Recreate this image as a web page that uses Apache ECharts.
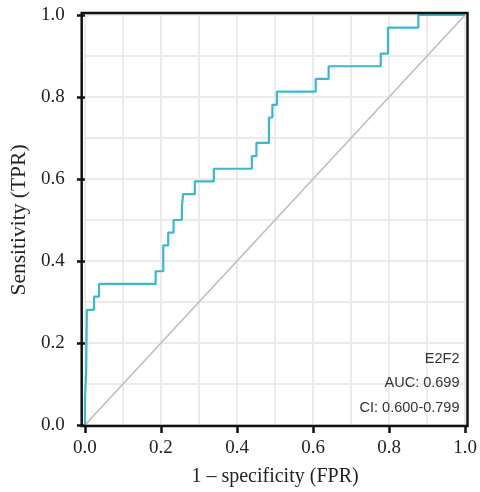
<!DOCTYPE html>
<html>
<head>
<meta charset="utf-8">
<script src="https://cdn.jsdelivr.net/npm/echarts@6/dist/echarts.min.js"></script>
<style>html,body{margin:0;padding:0;background:#fff}#chart{width:480px;height:492px}</style>
</head>
<body>
<div id="chart"></div>
<script>
// ROC curve corner points (1 - specificity, sensitivity)
const fpr = [0, 0, 0.003, 0.003, 0.005, 0.005, 0.024, 0.024, 0.037, 0.037, 0.186, 0.186, 0.206, 0.206, 0.219, 0.219, 0.233, 0.233, 0.255, 0.255, 0.258, 0.258, 0.289, 0.289, 0.339, 0.339, 0.439, 0.439, 0.451, 0.451, 0.484, 0.484, 0.493, 0.493, 0.505, 0.505, 0.607, 0.607, 0.641, 0.641, 0.778, 0.778, 0.797, 0.797, 0.877, 0.877, 1.0];
const tpr = [0, 0.063, 0.063, 0.125, 0.125, 0.281, 0.281, 0.313, 0.313, 0.344, 0.344, 0.375, 0.375, 0.438, 0.438, 0.469, 0.469, 0.500, 0.500, 0.531, 0.531, 0.563, 0.563, 0.594, 0.594, 0.625, 0.625, 0.656, 0.656, 0.688, 0.688, 0.750, 0.750, 0.781, 0.781, 0.813, 0.813, 0.844, 0.844, 0.875, 0.875, 0.906, 0.906, 0.969, 0.969, 1.0, 1.0];
// Reference diagonal
const diagX = [0, 1];
const diagY = [0, 1];
// Annotation texts
const legendLines = ['E2F2', 'AUC: 0.699', 'CI: 0.600-0.799'];
const xTitle = '1 \u2013 specificity (FPR)';
const yTitle = 'Sensitivity (TPR)';

const serif = '"Liberation Serif", "DejaVu Serif", serif';
const chart = echarts.init(document.getElementById('chart'), null, {renderer: 'canvas'});

const tickStyle = {show: true, length: 8, lineStyle: {color: '#111', width: 2.5}};
const splitStyle = {show: true, lineStyle: {color: '#ebebeb', width: 2}};

chart.setOption({
  backgroundColor: '#fff',
  animation: false,
  grid: [
    {left: 84, top: 15, right: 12, bottom: 66},
    {left: 81.7, top: 13, right: 12.5, bottom: 66, show: true, borderColor: '#111', borderWidth: 2.5, backgroundColor: 'transparent', z: 5}
  ],
  xAxis: [
    {
      type: 'value', gridIndex: 0, min: 0, max: 1, interval: 0.2,
      axisLine: {show: false},
      axisTick: tickStyle,
      axisLabel: {margin: 14, fontFamily: serif, fontSize: 19, color: '#222', formatter: v => v.toFixed(1)},
      splitLine: splitStyle,
      minorTick: {show: false, splitNumber: 2},
      minorSplitLine: splitStyle,
      name: xTitle, nameLocation: 'middle', nameGap: 42,
      nameTextStyle: {fontFamily: serif, fontSize: 20, color: '#222'}
    },
    {type: 'value', gridIndex: 1, show: false, min: 0, max: 1}
  ],
  yAxis: [
    {
      type: 'value', gridIndex: 0, min: 0, max: 1, interval: 0.2, offset: 2.3,
      axisLine: {show: false},
      axisTick: tickStyle,
      axisLabel: {margin: 18, fontFamily: serif, fontSize: 19, color: '#222', formatter: v => v.toFixed(1)},
      splitLine: splitStyle,
      minorTick: {show: false, splitNumber: 2},
      minorSplitLine: splitStyle,
      name: yTitle, nameLocation: 'middle', nameGap: 51,
      nameTextStyle: {fontFamily: serif, fontSize: 21.5, color: '#222'}
    },
    {type: 'value', gridIndex: 1, show: false, min: 0, max: 1}
  ],
  series: [
    {
      type: 'line', xAxisIndex: 0, yAxisIndex: 0, z: 2,
      data: diagX.map((x, i) => [x, diagY[i]]),
      symbol: 'none', silent: true,
      lineStyle: {color: '#bdbdbd', width: 1.6}
    },
    {
      type: 'line', xAxisIndex: 0, yAxisIndex: 0, z: 3,
      data: fpr.map((x, i) => [x, tpr[i]]),
      symbol: 'none', silent: true,
      lineStyle: {color: '#3db7cf', width: 2.2}
    }
  ],
  graphic: [
    {
      type: 'text', z: 10,
      style: {
        text: legendLines.join('\n'),
        x: 459.5, y: 347, align: 'right', verticalAlign: 'top',
        fontFamily: '"Liberation Sans", Arial, sans-serif', fontSize: 14.5, lineHeight: 24.2,
        fill: '#333'
      }
    }
  ]
});
</script>
</body>
</html>
